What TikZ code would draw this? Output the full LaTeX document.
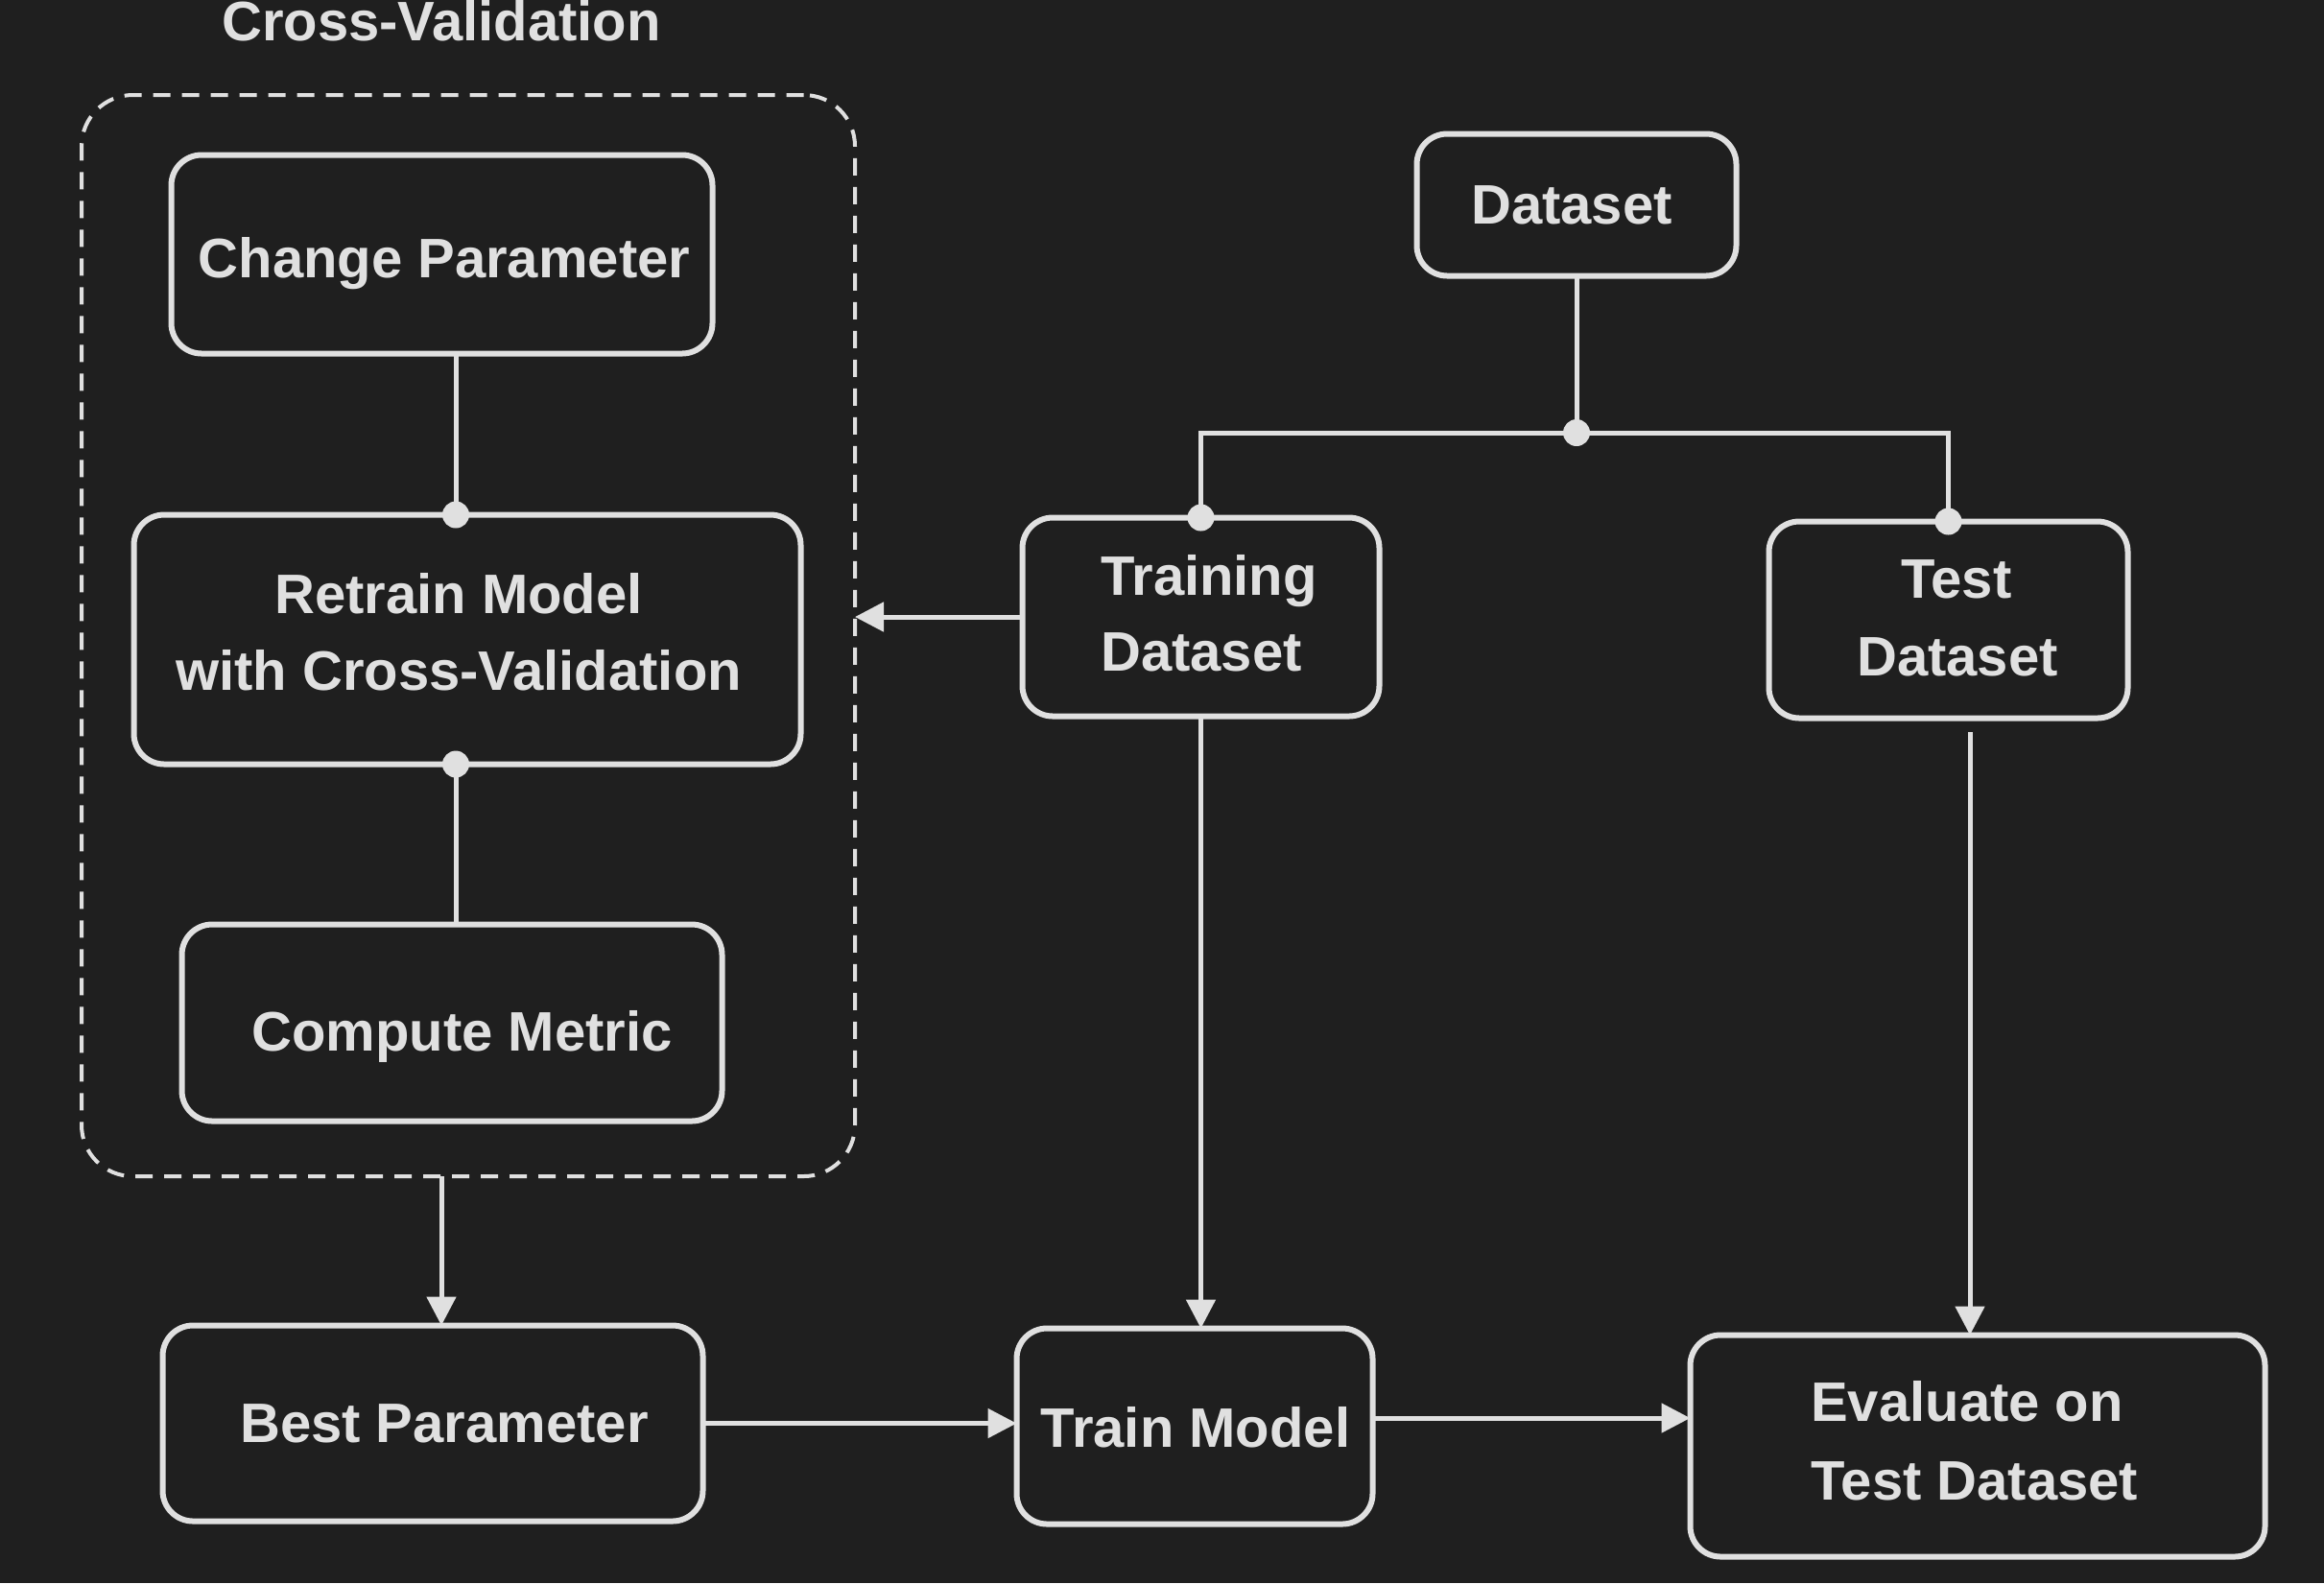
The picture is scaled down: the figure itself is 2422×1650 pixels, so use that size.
\documentclass[tikz,border=0pt]{standalone}
\usepackage{fontspec}
\setmainfont{Liberation Sans}
\usetikzlibrary{arrows.meta,calc}
\definecolor{bgc}{RGB}{31,31,31}
\definecolor{fgc}{RGB}{224,224,224}
\begin{document}
\begin{tikzpicture}[x=0.3pt,y=-0.3pt,
  box/.style={draw=fgc,line width=1.8pt,rounded corners=9.5pt,outer sep=0pt,inner sep=0pt},
  lbl/.style={text=fgc,font=\fontsize{17.4}{24.6}\selectfont\bfseries,inner sep=0pt,anchor=base},
  conn/.style={draw=fgc,line width=1.5pt},
  arr/.style={conn,-{Triangle[length=9pt,width=9pt]}},
  dot/.style={fill=fgc}]
\fill[bgc] (0,0) rectangle (2422,1650);
\useasboundingbox (0,0) rectangle (2422,1650);

% title
\node[lbl] (title) at (460,42) {Cross-Validation};

% dashed group
\node[draw=fgc,line width=1.2pt,dash pattern=on 5.4pt off 3.6pt,rounded corners=16pt,
  minimum width=241.8pt,minimum height=338.1pt,outer sep=0pt,inner sep=0pt] (cv) at (488,662.5) {};

% boxes
\node[box,minimum width=169.2pt,minimum height=62.1pt] (cp) at (460.5,265) {};
\node[box,minimum width=208.5pt,minimum height=78pt] (rt) at (487,666.5) {};
\node[box,minimum width=168.9pt,minimum height=61.5pt] (cm) at (471,1066) {};
\node[box,minimum width=99.9pt,minimum height=44.4pt] (ds) at (1643,213.5) {};
\node[box,minimum width=111.6pt,minimum height=62.1pt] (tr) at (1251.5,643) {};
\node[box,minimum width=112.2pt,minimum height=61.5pt] (te) at (2030.5,646) {};
\node[box,minimum width=168.9pt,minimum height=61.2pt] (bp) at (451,1483.5) {};
\node[box,minimum width=111.3pt,minimum height=61.2pt] (tm) at (1245,1486.5) {};
\node[box,minimum width=179.7pt,minimum height=69.3pt] (ev) at (2061,1507) {};

% labels
\node[lbl] (cpt) at (463,289) {Change Parameter};
\node[lbl] (rt1) at (478,639) {Retrain Model};
\node[lbl] (rt2) at (478,719) {with Cross-Validation};
\node[lbl] (cmt) at (481.5,1095) {Compute Metric};
\node[lbl] (dst) at (1638,233) {Dataset};
\node[lbl] (tr1) at (1260,620) {Training};
\node[lbl] (tr2) at (1252,699) {Dataset};
\node[lbl] (te1) at (2039,623) {Test};
\node[lbl] (te2) at (2040,704) {Dataset};
\node[lbl] (bpt) at (463,1503) {Best Parameter};
\node[lbl] (tmt) at (1246,1508) {Train Model};
\node[lbl] (ev1) at (2050,1481) {Evaluate on};
\node[lbl] (ev2) at (2058,1563) {Test Dataset};

% helper coordinates
\coordinate (xa) at (475,0);
\coordinate (xb) at (460,0);
\coordinate (j) at (1642,451);
\coordinate (teb) at (2053,763);
\coordinate (ya) at (0,1478);

% cross-validation internal links
\draw[conn] (cp.south -| xa) -- (rt.north -| xa);
\fill[dot] (rt.north -| xa) circle[radius=4.2pt];
\draw[conn] (cm.north -| xa) -- (rt.south -| xa);
\fill[dot] (rt.south -| xa) circle[radius=4.2pt];

% dataset split
\draw[conn] (ds.south) -- (ds.south |- j);
\fill[dot] (ds.south |- j) circle[radius=4.2pt];
\draw[conn] (j) -| (tr.north);
\draw[conn] (j) -| (te.north);
\fill[dot] (tr.north) circle[radius=4.2pt];
\fill[dot] (te.north) circle[radius=4.2pt];

% arrows
\draw[arr] (tr.west) -- (tr.west -| cv.east);
\draw[arr] (tr.south) -- (tr.south |- tm.north);
\draw[arr] (teb) -- (teb |- ev.north);
\draw[arr] (cv.south -| xb) -- (bp.north -| xb);
\draw[arr] (bp.east) -- (bp.east -| tm.west);
\draw[arr] (tm.east |- ya) -- (ev.west |- ya);
\end{tikzpicture}
\end{document}
